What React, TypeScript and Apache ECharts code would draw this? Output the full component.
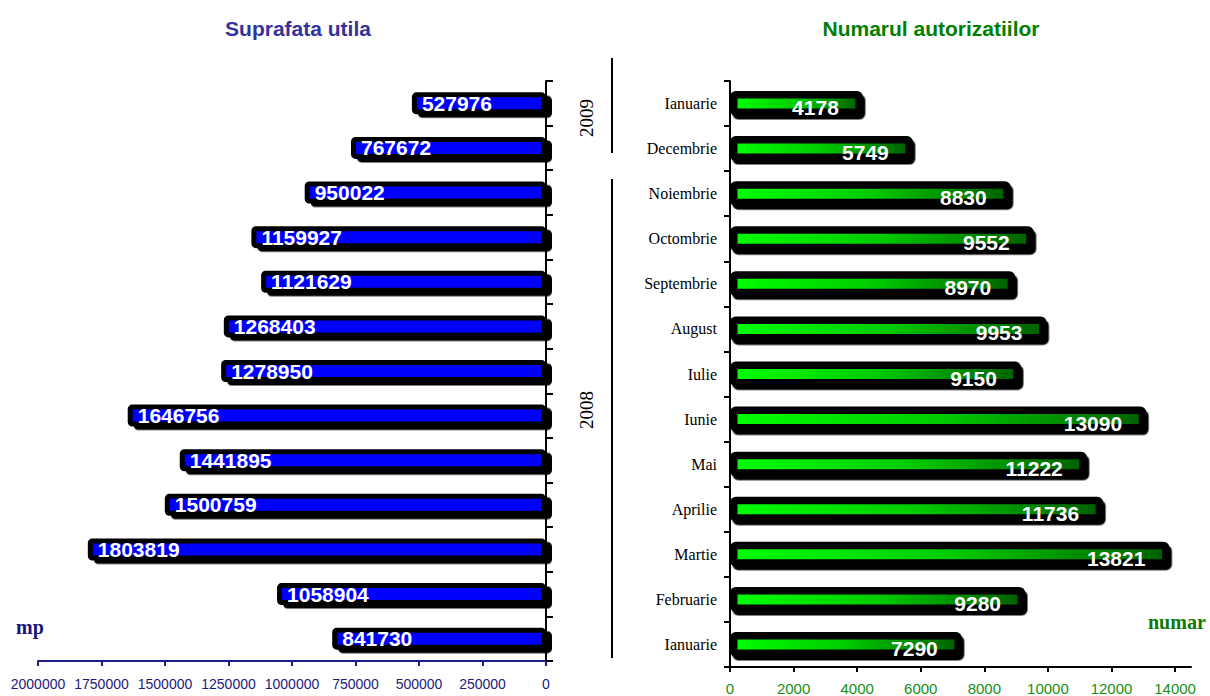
import React, { useEffect, useRef } from "react";
import * as echarts from "echarts";

// Categories, bottom to top (ECharts category axis starts at bottom)
const months = [
  "Ianuarie",
  "Februarie",
  "Martie",
  "Aprilie",
  "Mai",
  "Iunie",
  "Iulie",
  "August",
  "Septembrie",
  "Octombrie",
  "Noiembrie",
  "Decembrie",
  "Ianuarie",
];
const years = ["2009", "2008"];

// Suprafata utila (mp), bottom to top
const surfaceValues = [
  841730, 1058904, 1803819, 1500759, 1441895, 1646756, 1278950, 1268403,
  1121629, 1159927, 950022, 767672, 527976,
];

// Numarul autorizatiilor, bottom to top
const permitValues = [
  7290, 9280, 13821, 11736, 11222, 13090, 9150, 9953, 8970, 9552, 8830, 5749,
  4178,
];

const rightTicks = [0, 2000, 4000, 6000, 8000, 10000, 12000, 14000];

const SANS = '"Liberation Sans", Arial, sans-serif';
const SERIF = '"Liberation Serif", "Times New Roman", serif';

export default function App() {
  const ref = useRef<HTMLDivElement>(null);

  useEffect(() => {
    if (!ref.current) return;
    const chart = echarts.init(ref.current, undefined, { renderer: "svg" });

    const greenGrad = new echarts.graphic.LinearGradient(0, 0, 1, 0, [
      { offset: 0, color: "#00ff00" },
      { offset: 0.5, color: "#00cc00" },
      { offset: 1, color: "#006000" },
    ]);

    chart.setOption({
      animation: false,
      backgroundColor: "#ffffff",
      grid: [
        { left: 38, right: 664, top: 81, bottom: 35, containLabel: false },
        { left: 730, right: 19, top: 81, bottom: 27, containLabel: false },
      ],
      xAxis: [
        {
          type: "value",
          gridIndex: 0,
          inverse: true,
          min: 0,
          max: 2000000,
          interval: 250000,
          splitLine: { show: false },
          axisLine: { show: true, lineStyle: { color: "#1c1c8a", width: 2 } },
          axisTick: { show: true, length: 5, lineStyle: { color: "#1c1c8a", width: 2 } },
          axisLabel: {
            color: "#1c1c7a",
            fontFamily: SANS,
            fontSize: 14,
            margin: 16,
            formatter: (v: number) => String(v),
          },
        },
        {
          type: "value",
          gridIndex: 1,
          min: 0,
          max: 14500,
          interval: 2000,
          splitLine: { show: false },
          axisLine: { show: true, lineStyle: { color: "#000", width: 2 } },
          axisTick: {
            show: true,
            length: 5,
            lineStyle: { color: "#000", width: 2 },
            customValues: rightTicks,
          },
          axisLabel: {
            color: "#169016",
            fontFamily: SANS,
            fontSize: 15,
            margin: 14,
            customValues: rightTicks,
            formatter: (v: number) => String(v),
          },
        },
      ],
      yAxis: [
        {
          type: "category",
          gridIndex: 0,
          position: "right",
          data: months,
          axisLine: { show: true, onZero: false, lineStyle: { color: "#000", width: 2 } },
          axisTick: { show: true, length: 7, lineStyle: { color: "#000", width: 2 } },
          axisLabel: { show: false },
        },
        {
          type: "category",
          gridIndex: 1,
          position: "left",
          data: months,
          axisLine: { show: true, onZero: false, lineStyle: { color: "#000", width: 2 } },
          axisTick: { show: true, length: 6, lineStyle: { color: "#000", width: 2 } },
          axisLabel: {
            color: "#000",
            fontFamily: SERIF,
            fontSize: 16,
            margin: 13,
          },
        },
      ],
      series: [
        {
          type: "bar",
          xAxisIndex: 0,
          yAxisIndex: 0,
          data: surfaceValues,
          barWidth: 22,
          clip: true,
          itemStyle: {
            color: "#0000ff",
            borderColor: "#000",
            borderWidth: 5,
            borderRadius: 2,
            shadowColor: "#000",
            shadowBlur: 0,
            shadowOffsetX: 6,
            shadowOffsetY: 3.5,
          },
          label: {
            show: true,
            position: "insideLeft",
            distance: 10,
            color: "#fff",
            fontFamily: SANS,
            fontWeight: "bold",
            fontSize: 21,
            formatter: "{c}",
          },
        },
        {
          type: "bar",
          xAxisIndex: 1,
          yAxisIndex: 1,
          data: permitValues,
          barWidth: 25,
          clip: true,
          itemStyle: {
            color: greenGrad,
            borderColor: "#000",
            borderWidth: 7.5,
            borderRadius: 2,
            shadowColor: "#000",
            shadowBlur: 0,
            shadowOffsetX: 2.5,
            shadowOffsetY: 3.5,
          },
          label: {
            show: true,
            position: "insideRight",
            distance: 24,
            offset: [0, 4],
            color: "#fff",
            fontFamily: SANS,
            fontWeight: "bold",
            fontSize: 21,
            formatter: "{c}",
          },
        },
      ],
      graphic: [
        {
          type: "text",
          x: 298,
          y: 28,
          style: {
            text: "Suprafata utila",
            align: "center",
            verticalAlign: "middle",
            font: `bold 21px ${SANS}`,
            fill: "#333399",
          },
        },
        {
          type: "text",
          x: 931,
          y: 28,
          style: {
            text: "Numarul autorizatiilor",
            align: "center",
            verticalAlign: "middle",
            font: `bold 21px ${SANS}`,
            fill: "#008000",
          },
        },
        {
          type: "text",
          x: 16,
          y: 627,
          style: {
            text: "mp",
            align: "left",
            verticalAlign: "middle",
            font: `bold 20px ${SERIF}`,
            fill: "#16167a",
          },
        },
        {
          type: "text",
          x: 1148,
          y: 622,
          style: {
            text: "numar",
            align: "left",
            verticalAlign: "middle",
            font: `bold 20px ${SERIF}`,
            fill: "#0a7a0a",
          },
        },
        {
          type: "text",
          x: 586,
          y: 118,
          rotation: Math.PI / 2,
          style: {
            text: years[0],
            align: "center",
            verticalAlign: "middle",
            font: `19px ${SERIF}`,
            fill: "#000",
          },
        },
        {
          type: "text",
          x: 586,
          y: 410,
          rotation: Math.PI / 2,
          style: {
            text: years[1],
            align: "center",
            verticalAlign: "middle",
            font: `19px ${SERIF}`,
            fill: "#000",
          },
        },
        {
          type: "line",
          shape: { x1: 612, y1: 58, x2: 612, y2: 153 },
          style: { stroke: "#000", lineWidth: 2 },
        },
        {
          type: "line",
          shape: { x1: 612, y1: 179, x2: 612, y2: 658 },
          style: { stroke: "#000", lineWidth: 2 },
        },
      ],
    });

    return () => {
      chart.dispose();
    };
  }, []);

  return (
    <div
      ref={ref}
      style={{
        position: "fixed",
        left: 0,
        top: 0,
        width: 1210,
        height: 696,
        background: "#fff",
      }}
    />
  );
}
